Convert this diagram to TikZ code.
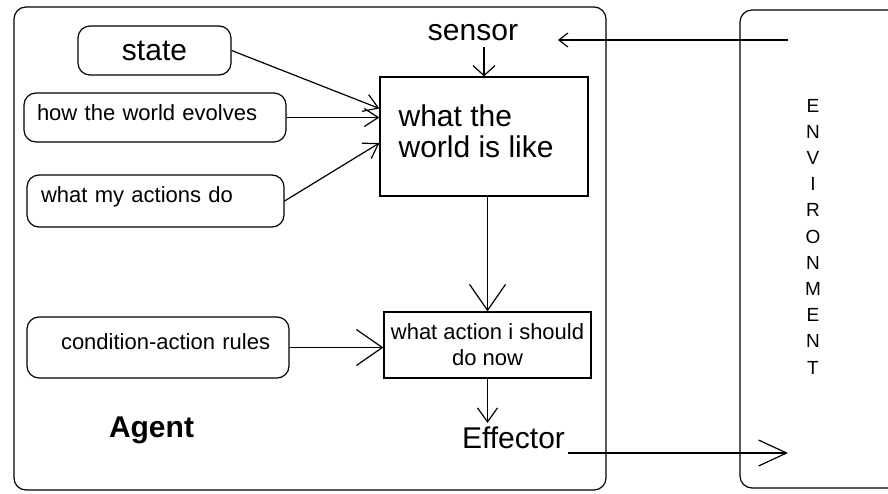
\documentclass[tikz,border=0pt]{standalone}
\usepackage{fontspec}
\setmainfont{Liberation Sans}
\usetikzlibrary{arrows.meta,calc}
\begin{document}
\begin{tikzpicture}[x=1pt,y=-1pt,line width=1.2pt,
  rbox/.style={draw, rounded corners=12pt, inner ysep=0pt},
  sbox/.style={draw, inner sep=0pt},
  smalltxt/.style={font=\fontsize{22}{26}\selectfont},
  bigtxt/.style={font=\fontsize{30}{31}\selectfont},
  lbl/.style={inner sep=0pt},
  tipA/.style={-{Straight Barb[length=10pt,width=22pt]}},
  tipB/.style={-{Straight Barb[length=14pt,width=18pt]}},
  tipC/.style={-{Straight Barb[length=26pt,width=36pt]}},
  tipD/.style={-{Straight Barb[length=14pt,width=20pt]}},
  tipE/.style={-{Straight Barb[length=28pt,width=26pt]}},
  tipF/.style={-{Straight Barb[length=9pt,width=14pt]}}
]
\useasboundingbox (0,0) rectangle (888,493);
\clip (0,0) rectangle (888,493);

% outer boxes
\node[draw, rounded corners=12pt, minimum width=592pt, minimum height=483pt, inner sep=0pt] (agent) at (310,248.5) {};
\node[draw, rounded corners=12pt, minimum width=160pt, minimum height=478pt, inner sep=0pt] (env) at (820,249) {};
\node[lbl, align=center, font=\fontsize{19}{26.2}\selectfont] (envtxt) at (813,236.5) {E\\N\\V\\I\\R\\O\\N\\M\\E\\N\\T};

% rounded input boxes
\node[rbox, font=\fontsize{30}{31}\selectfont, minimum width=153pt, minimum height=49pt, text height=21.5pt, text depth=2.5pt] (state) at (154.5,50.5) {state};
\node[rbox, smalltxt, text width=236pt, inner xsep=13pt, align=left, minimum height=49pt, text height=16pt, text depth=11pt] (hw) at (155,117.5) {how the world evolves};
\node[rbox, smalltxt, text width=229pt, inner xsep=14pt, align=left, minimum height=52pt, text height=16pt, text depth=14pt] (wma) at (155.5,201) {what my actions do};
\node[rbox, smalltxt, text width=262pt, inner xsep=0pt, align=left, minimum height=61pt, text height=16pt, text depth=12.4pt] (car) at (158,347.5) {\hspace*{34pt}condition-action rules};

% main boxes
\node[sbox, minimum width=208pt, minimum height=119pt] (world) at (484,136.5) {};
\node[lbl, bigtxt, align=left, anchor=north west] (worldtxt) at (398,104) {what the\\world is like};
\node[sbox, smalltxt, align=center, minimum width=207pt, minimum height=66pt] (action) at (487.5,345) {what action i should\\do now};

% labels
\node[lbl, bigtxt] (sensor) at (473,33) {sensor};
\node[lbl, bigtxt] (effector) at (513.5,437.5) {Effector};
\node[lbl, font=\fontsize{30}{31}\selectfont\bfseries] (agenttxt) at (151.5,430.5) {Agent};

% free ends
\coordinate (envout) at (788,40);
\coordinate (sensin) at (558,40);
\coordinate (effout) at (568,453);
\coordinate (envin) at (788,453);

% connectors
\draw[tipF] (envout) -- (sensin);
\draw[tipA] ($(sensor.south -| world.north)+(0,5)$) -- (world.north);
\draw[tipB] (state.east) -- ([yshift=28pt]world.west);
\draw[tipB] (hw.east) -- (hw.east -| world.west);
\draw[tipB] (wma.east) -- ([yshift=-6.5pt]world.west);
\draw[tipC] (world.south -| action.north) -- (action.north);
\draw[tipC] (car.east) -- (car.east -| action.west);
\draw[tipD] (action.south) -- ($(action.south |- effector.north)+(0,-3)$);
\draw[tipE] (effout) -- (envin);
\end{tikzpicture}
\end{document}
